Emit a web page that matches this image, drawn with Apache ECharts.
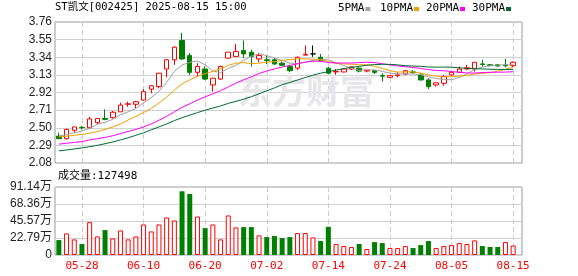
<!DOCTYPE html>
<html><head><meta charset="utf-8">
<script src="https://cdn.jsdelivr.net/npm/echarts@6/dist/echarts.min.js"></script>
<style>html,body{margin:0;padding:0;background:#fff}#c{width:578px;height:276px}</style>
</head><body><div id="c"></div>
<script>
const dates = ['05-23','05-26','05-27','05-28','05-29','05-30','06-03','06-04','06-05','06-06',
'06-09','06-10','06-11','06-12','06-13','06-16','06-17','06-18','06-19','06-20',
'06-23','06-24','06-25','06-26','06-27','06-30','07-01','07-02','07-03','07-04',
'07-07','07-08','07-09','07-10','07-11','07-14','07-15','07-16','07-17','07-18',
'07-21','07-22','07-23','07-24','07-25','07-28','07-29','07-30','07-31','08-01',
'08-04','08-05','08-06','08-07','08-08','08-11','08-12','08-13','08-14','08-15'];
const opens = [2.40,2.37,2.47,2.505,2.50,2.56,2.61,2.62,2.69,2.78,
2.78,2.83,2.96,2.99,3.20,3.31,3.54,3.36,3.16,3.20,
3.01,3.08,3.33,3.35,3.42,3.40,3.32,3.31,3.31,3.27,
3.23,3.21,3.365,3.38,3.34,3.21,3.165,3.165,3.20,3.21,
3.175,3.18,3.12,3.10,3.12,3.14,3.165,3.13,3.07,3.01,
3.03,3.13,3.16,3.20,3.20,3.26,3.25,3.25,3.245,3.24];
const closes = [2.37,2.48,2.51,2.50,2.605,2.61,2.60,2.685,2.77,2.785,
2.81,2.93,3.00,3.15,3.31,3.46,3.32,3.16,3.23,3.08,
3.09,3.23,3.40,3.41,3.38,3.35,3.36,3.30,3.26,3.245,
3.18,3.34,3.375,3.38,3.30,3.15,3.17,3.20,3.225,3.175,
3.185,3.16,3.115,3.12,3.13,3.18,3.16,3.07,2.99,3.035,
3.11,3.16,3.20,3.215,3.28,3.255,3.245,3.235,3.238,3.28];
const lows = [2.37,2.36,2.44,2.48,2.49,2.545,2.59,2.61,2.69,2.75,
2.73,2.82,2.91,2.97,3.10,3.25,3.31,3.13,3.11,3.07,
2.93,3.07,3.32,3.35,3.33,3.23,3.28,3.26,3.25,3.235,
3.16,3.19,3.365,3.345,3.29,3.14,3.13,3.16,3.19,3.16,
3.16,3.14,3.05,3.09,3.10,3.13,3.14,3.06,2.96,2.99,
3.00,3.12,3.15,3.19,3.17,3.23,3.23,3.23,3.22,3.22];
const highs = [2.44,2.49,2.51,2.52,2.63,2.61,2.72,2.70,2.80,2.81,
2.82,2.96,3.01,3.15,3.32,3.47,3.63,3.39,3.27,3.23,
3.09,3.24,3.40,3.50,3.54,3.43,3.39,3.36,3.33,3.29,
3.25,3.35,3.48,3.48,3.38,3.22,3.20,3.21,3.23,3.22,
3.19,3.19,3.15,3.125,3.16,3.19,3.19,3.15,3.09,3.04,
3.13,3.17,3.23,3.25,3.28,3.31,3.26,3.26,3.32,3.29];
const ma5 = [2.40,2.42,2.44,2.46,2.493,2.541,2.565,2.600,2.654,2.690,
2.730,2.796,2.859,2.935,3.040,3.170,3.248,3.280,3.296,3.250,
3.176,3.158,3.206,3.242,3.302,3.354,3.380,3.360,3.330,3.303,
3.269,3.265,3.280,3.304,3.315,3.309,3.275,3.240,3.209,3.184,
3.191,3.189,3.172,3.151,3.142,3.141,3.141,3.132,3.106,3.087,
3.073,3.073,3.099,3.144,3.193,3.222,3.239,3.246,3.251,3.251];
const ma10 = [2.39,2.40,2.41,2.42,2.435,2.455,2.48,2.51,2.545,2.592,
2.636,2.681,2.730,2.795,2.865,2.950,3.022,3.070,3.116,3.145,
3.173,3.203,3.243,3.269,3.276,3.265,3.269,3.283,3.286,3.303,
3.312,3.323,3.320,3.317,3.309,3.289,3.270,3.260,3.257,3.250,
3.250,3.232,3.206,3.180,3.163,3.166,3.165,3.152,3.129,3.115,
3.107,3.107,3.116,3.125,3.140,3.148,3.156,3.173,3.197,3.222];
const ma20 = [2.305,2.315,2.325,2.335,2.355,2.37,2.385,2.405,2.43,2.456,
2.48,2.51,2.545,2.59,2.636,2.69,2.743,2.785,2.83,2.868,
2.904,2.942,2.986,3.032,3.071,3.108,3.146,3.176,3.201,3.224,
3.242,3.263,3.282,3.293,3.293,3.277,3.270,3.272,3.271,3.276,
3.281,3.277,3.263,3.249,3.236,3.228,3.218,3.206,3.193,3.182,
3.179,3.170,3.161,3.153,3.152,3.157,3.161,3.162,3.163,3.168];
const ma30 = [2.225,2.235,2.247,2.26,2.275,2.29,2.31,2.33,2.355,2.38,
2.41,2.44,2.475,2.51,2.545,2.585,2.62,2.65,2.68,2.71,
2.735,2.76,2.79,2.815,2.84,2.87,2.905,2.94,2.975,3.013,
3.040,3.069,3.098,3.127,3.150,3.168,3.187,3.204,3.219,3.232,
3.245,3.253,3.256,3.255,3.249,3.240,3.235,3.232,3.224,3.222,
3.223,3.221,3.214,3.207,3.204,3.201,3.197,3.195,3.194,3.195];
const volumes = [20.0,28.9,20.9,14.7,44.0,24.9,33.4,22.2,32.9,20.9,
24.9,40.9,31.6,40.9,50.3,46.3,85.4,81.8,51.6,36.0,
40.9,20.9,53.0,37.0,37.4,37.4,26.3,24.0,25.4,22.7,
24.0,29.4,29.4,23.6,18.7,37.8,14.7,12.0,10.7,14.7,
8.0,17.3,16.0,9.3,9.3,12.0,9.3,13.3,18.7,9.3,
12.0,13.3,16.0,14.7,19.6,12.0,10.7,10.7,17.3,12.75];
const priceTicks = ['2.08','2.29','2.50','2.71','2.92','3.13','3.34','3.55','3.76'];
const volTicks = ['0','22.79万','45.57万','68.36万','91.14万'];
const volMax = 91.14;
const xTickLabels = ['05-28','06-10','06-20','07-02','07-14','07-24','08-05','08-15'];
const titleText = 'ST凯文[002425] 2025-08-15 15:00';
const volText = '成交量:127498';
const maNames = ['5PMA','10PMA','20PMA','30PMA'];

const RED = '#ff0000', GREEN = '#008000';
const maColors = ['#a0a0a0','#f0a000','#ff00ff','#006a32'];
const maData = [ma5, ma10, ma20, ma30];
const MONO = '"DejaVu Sans Mono","Noto Sans CJK SC",monospace';
const SANS = '"Liberation Sans","Noto Sans CJK SC",sans-serif';

const candleData = dates.map((d, i) => {
  const v = [opens[i], closes[i], lows[i], highs[i]];
  if (opens[i] === closes[i]) {
    return {value: v, itemStyle: {color: '#000', color0: '#000', borderColor: '#000', borderColor0: '#000'}};
  }
  return v;
});
const volData = dates.map((d, i) => {
  const up = i === 0 ? closes[0] >= opens[0] : closes[i] > closes[i - 1];
  return {value: volumes[i], itemStyle: up ? {color: '#fff', borderColor: RED, borderWidth: 1} : {color: GREEN, borderColor: GREEN, borderWidth: 0}};
});
const tickInterval = (idx, val) => xTickLabels.indexOf(val) >= 0;
const dashed = {type: [5, 3], color: '#cccccc', width: 1};

// legend drawn as text + small square after the text
const legendX = [338, 380, 426, 472];
const legendGraphics = [];
maNames.forEach((n, k) => {
  legendGraphics.push({type: 'text', x: legendX[k], y: 3, style: {text: n, font: '11px ' + MONO, fill: '#000'}});
  legendGraphics.push({type: 'rect', x: legendX[k] + n.length * 6.6 + 1, y: 7, shape: {width: 5, height: 4}, style: {fill: maColors[k]}});
});

const chart = echarts.init(document.getElementById('c'), null, {renderer: 'canvas'});
chart.setOption({
  animation: false,
  backgroundColor: '#fff',
  graphic: [
    {type: 'text', left: 55, top: 2, style: {text: titleText, font: '10.5px ' + MONO, fill: '#000'}},
    {type: 'text', left: 58, top: 171, style: {text: volText, font: '11px ' + MONO, fill: '#000'}},
    {type: 'text', left: 238, top: 74, z: 1, style: {text: '东方财富', font: 'bold 34px "Noto Sans CJK SC"', fill: '#e6e6ea'}},
    ...legendGraphics
  ],
  grid: [
    {left: 55, top: 22, width: 467, height: 141, show: true, borderColor: '#999', borderWidth: 1},
    {left: 55, top: 22, width: 462, height: 141},
    {left: 55, top: 187, width: 467, height: 68, show: true, borderColor: '#999', borderWidth: 1},
    {left: 55, top: 187, width: 462, height: 68}
  ],
  xAxis: [
    {gridIndex: 0, type: 'value', min: 0, max: 1, show: false},
    {gridIndex: 1, type: 'category', data: dates, boundaryGap: true,
      axisLine: {show: false}, axisTick: {show: false}, axisLabel: {show: false},
      splitLine: {show: true, interval: tickInterval, alignWithLabel: true, lineStyle: dashed}},
    {gridIndex: 2, type: 'value', min: 0, max: 1, show: false},
    {gridIndex: 3, type: 'category', data: dates, boundaryGap: true,
      axisLine: {show: false}, axisTick: {show: false},
      axisLabel: {show: true, interval: tickInterval, color: RED, fontFamily: MONO, fontSize: 11, margin: 6},
      splitLine: {show: true, interval: tickInterval, alignWithLabel: true, lineStyle: dashed}}
  ],
  yAxis: [
    {gridIndex: 0, type: 'value', min: 0, max: priceTicks.length - 1, interval: 1,
      axisLine: {show: false}, axisTick: {show: false},
      axisLabel: {formatter: v => priceTicks[v], color: '#222', fontFamily: SANS, fontSize: 12, margin: 3},
      splitLine: {show: true, lineStyle: {color: '#d0d0d0', width: 1}}},
    {gridIndex: 1, type: 'value', min: +priceTicks[0], max: +priceTicks[priceTicks.length - 1], show: false,
      splitLine: {show: false}},
    {gridIndex: 2, type: 'value', min: 0, max: volTicks.length - 1, interval: 1,
      axisLine: {show: false}, axisTick: {show: false},
      axisLabel: {formatter: v => volTicks[v], color: '#222', fontFamily: SANS, fontSize: 12, margin: 3},
      splitLine: {show: true, lineStyle: {color: '#d0d0d0', width: 1}}},
    {gridIndex: 3, type: 'value', min: 0, max: volMax, show: false, splitLine: {show: false}}
  ],
  series: [
    {type: 'candlestick', name: 'K', xAxisIndex: 1, yAxisIndex: 1, barWidth: 5, data: candleData,
      itemStyle: {color: '#fff', color0: GREEN, borderColor: RED, borderColor0: GREEN, borderWidth: 1},
      emphasis: {disabled: true}},
    ...maNames.map((n, k) => ({
      type: 'line', name: n, xAxisIndex: 1, yAxisIndex: 1, data: maData[k], symbol: 'none',
      color: maColors[k], lineStyle: {color: maColors[k], width: 1}, itemStyle: {color: maColors[k]},
      emphasis: {disabled: true}, z: 3
    })),
    {type: 'bar', name: 'VOL', xAxisIndex: 3, yAxisIndex: 3, barWidth: 5, data: volData,
      emphasis: {disabled: true}}
  ]
});
</script>
</body></html>
